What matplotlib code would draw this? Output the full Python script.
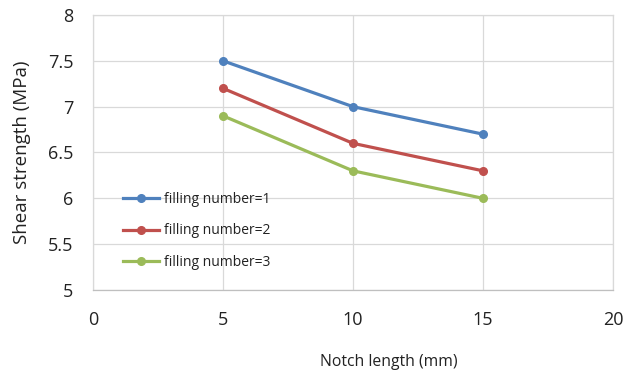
import matplotlib
matplotlib.use("Agg")
import matplotlib.pyplot as plt

notch_length = [5, 10, 15]
series_names = ["filling number=1", "filling number=2", "filling number=3"]
fill1 = [7.5, 7.0, 6.7]
fill2 = [7.2, 6.6, 6.3]
fill3 = [6.9, 6.3, 6.0]
x_ticks = [0, 5, 10, 15, 20]
y_ticks = [5, 5.5, 6, 6.5, 7, 7.5, 8]
y_tick_labels = ["5", "5.5", "6", "6.5", "7", "7.5", "8"]

colors = ["#4F81BD", "#C0504D", "#9BBB59"]

plt.rcParams['font.family'] = ['Open Sans', 'DejaVu Sans']

fig = plt.figure(figsize=(6.23, 3.73), dpi=100)
ax = fig.add_axes([93/623, 1-290/373, (613-93)/623, (290-15)/373])

for vals, name, c in zip([fill1, fill2, fill3], series_names, colors):
    ax.plot(notch_length, vals, color=c, lw=2.3, marker='o', ms=5.5, label=name)

ax.set_xlim(0, 20)
ax.set_ylim(5, 8)
ax.set_xticks(x_ticks)
ax.set_yticks(y_ticks)
ax.set_yticklabels(y_tick_labels)
ax.grid(True, color='#d9d9d9', lw=0.9)
ax.set_axisbelow(True)
for s in ax.spines.values():
    s.set_color('#d9d9d9')
    s.set_linewidth(0.9)
ax.spines['bottom'].set_color('#bfbfbf')
ax.tick_params(axis='both', length=0, labelsize=13, colors='#222222')
ax.tick_params(axis='x', pad=15)
ax.tick_params(axis='y', pad=14)

ax.set_ylabel("Shear strength (MPa)", fontsize=13.5, color='#222222')
ax.yaxis.set_label_coords(-(93-22)/520, 0.5)
ax.set_xlabel("Notch length (mm)", fontsize=11.3, color='#222222')
ax.xaxis.label.set_va('center')
ax.yaxis.label.set_va('center')
ax.xaxis.set_label_coords((389-93)/520, -(362-290)/275)

leg = ax.legend(loc='center left', bbox_to_anchor=((124-93)/520 - 0.012, (290-231)/275), frameon=False,
                fontsize=10, handlelength=2.6, handletextpad=0.3, labelspacing=1.2,
                borderaxespad=0)
for t in leg.get_texts():
    t.set_color('#222222')

fig.savefig("out.png", dpi=100)
